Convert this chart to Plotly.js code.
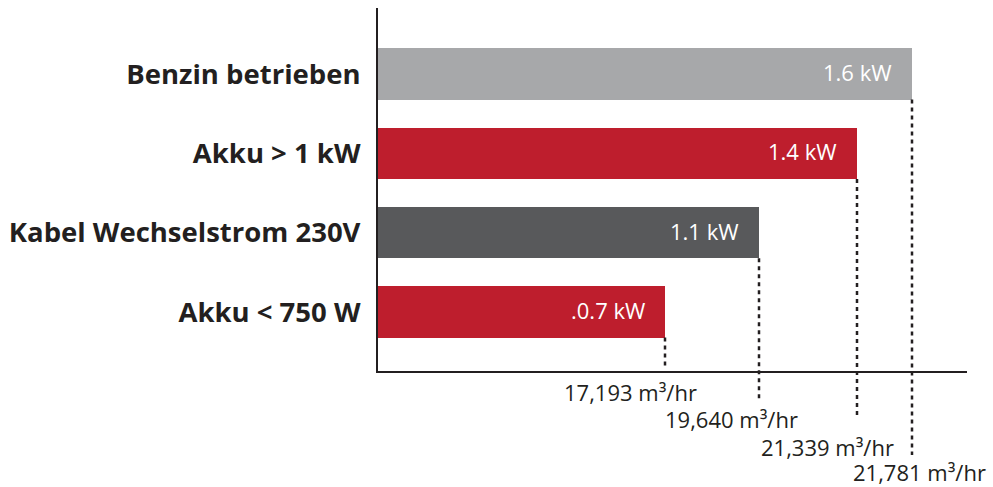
<!DOCTYPE html>
<html>
<head>
<meta charset="utf-8">
<script src="https://cdn.plot.ly/plotly-3.0.1.min.js"></script>
<style>html,body{margin:0;padding:0;background:#fff;}#chart{width:993px;height:487px;}</style>
</head>
<body>
<div id="chart"></div>
<script>
// ---- data ----
const categories = ["Benzin betrieben", "Akku > 1 kW", "Kabel Wechselstrom 230V", "Akku < 750 W"];
const barLength = [534, 479, 381, 287];          // relative bar length as drawn
const kwLabels = ["1.6 kW", "1.4 kW", "1.1 kW", ".0.7 kW"];
const airflowLabels = ["21,781 m³/hr", "21,339 m³/hr", "19,640 m³/hr", "17,193 m³/hr"];
const barColors = ["#A7A8AA", "#BE1E2D", "#58595B", "#BE1E2D"];

// ---- layout details (positions / styles) ----
const plotH = 363;
const plotBottom = 371;
const xMax = 589;
const barHalf = 0.3225;
const yRange = [3.745, -0.833];
const lineEndPx = [455, 418, 400, 367];     // pixel y where dotted lines end
const labelCenterPx = [472, 447, 419, 392]; // pixel y of airflow label centres
const labelShiftPx = [7, -30, -28, -35];    // horizontal offset of label centre from line
const toPaper = p => (plotBottom - p) / plotH;
const catToPaper = v => (yRange[0] - v) / (yRange[0] - yRange[1]);

const trace = {
  type: "bar",
  orientation: "h",
  y: categories,
  x: barLength,
  marker: {color: barColors, line: {width: 0}},
  width: 2 * barHalf,
  hoverinfo: "skip"
};

const shapes = [];
const annotations = [];
categories.forEach((c, i) => {
  shapes.push({
    type: "line", xref: "paper", yref: "paper",
    x0: barLength[i] / xMax, x1: barLength[i] / xMax,
    y0: catToPaper(i + barHalf), y1: toPaper(lineEndPx[i]),
    line: {color: "#231F20", width: 2.5, dash: "4px,4px"}
  });
  annotations.push({
    xref: "x", yref: "y", x: barLength[i], y: c,
    text: kwLabels[i], showarrow: false,
    xanchor: "right", yanchor: "middle", xshift: -18, yshift: 2,
    font: {family: "Open Sans", size: 22, color: "#ffffff"}
  });
  annotations.push({
    xref: "x", yref: "paper", x: barLength[i], y: toPaper(labelCenterPx[i]),
    text: airflowLabels[i], showarrow: false,
    xanchor: "center", yanchor: "middle", xshift: labelShiftPx[i],
    font: {family: "Open Sans", size: 22, color: "#231F20"}
  });
});

const layout = {
  width: 993, height: 487,
  margin: {l: 378, r: 26, t: 8, b: 116},
  paper_bgcolor: "#ffffff", plot_bgcolor: "#ffffff",
  showlegend: false,
  bargap: 0,
  xaxis: {
    range: [0, xMax], showgrid: false, zeroline: false,
    showticklabels: false, ticks: "",
    showline: true, linecolor: "#231F20", linewidth: 2
  },
  yaxis: {
    type: "category", range: yRange, showgrid: false, zeroline: false,
    showline: true, linecolor: "#231F20", linewidth: 2, ticks: "",
    ticklabelstandoff: 10,
    tickfont: {family: "Open Sans", size: 27.5, color: "#231F20", weight: "bold"}
  },
  shapes: shapes,
  annotations: annotations
};

Plotly.newPlot("chart", [trace], layout, {displayModeBar: false, staticPlot: true});
</script>
</body>
</html>
